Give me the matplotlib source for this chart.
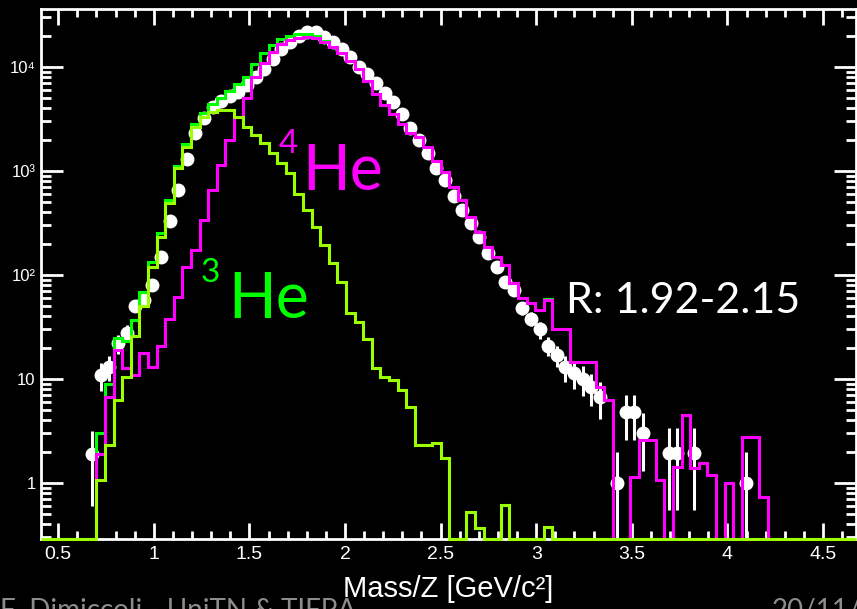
import numpy as np
import matplotlib.pyplot as plt
from matplotlib.ticker import MultipleLocator, LogLocator, FixedLocator, NullFormatter, FuncFormatter

plt.rcParams['font.family'] = ['Liberation Sans', 'DejaVu Sans']

# mass/Z binning of the template histograms (GeV/c^2)
bin_width = 0.045
n_bins = 78
edges = 0.70 + bin_width * np.arange(n_bins + 1)

# 3He template
he3 = [1.07, 2.3, 6.3, 10.5, 26, 50, 120, 230, 490, 1060,
       1700, 2660, 3300, 3700, 3850, 3850, 3300, 2660, 2200, 1850,
       1480, 1200, 950, 600, 420, 290, 195, 130, 85, 43,
       35, 24, 12.7, 10.5, 9.8, 7.8, 5.4, 2.3, 2.3, 2.45,
       1.74, 0, 0, 0.53, 0.37, 0, 0, 0.61, 0, 0,
       0, 0, 0.38, 0, 0, 0, 0, 0, 0, 0,
       0, 0, 0, 0, 0, 0, 0, 0, 0, 0,
       0, 0, 0, 0, 0, 0, 0, 0]

# 4He template
he4 = [1.9, 6.7, 19, 12.7, 11, 17.8, 13, 21, 38, 61,
       120, 174, 336, 656, 1140, 1990, 3300, 5000, 8000, 11000,
       14000, 16500, 18000, 19000, 19300, 18800, 17500, 15500, 13500, 11500,
       9500, 7300, 5500, 4300, 3500, 2800, 2300, 2100, 1700, 1250,
       980, 700, 525, 360, 260, 186, 150, 125, 84, 60,
       54, 46, 58, 30, 30, 14.6, 14.6, 14.6, 8.4, 6.3,
       0, 0, 1.14, 2.6, 2.6, 1.07, 0, 1.43, 4.5, 1.4,
       1.56, 1.19, 0, 1.0, 0, 2.8, 2.8, 0.74]

# 3He + 4He
he_sum = [3.0, 9.0, 25, 23, 37, 68, 133, 251, 528, 1120,
          1820, 2830, 3640, 4360, 4990, 5840, 6800, 8000, 10800, 13600,
          16300, 18500, 19800, 20600, 20600, 19700, 17800, 15630, 13585, 11540,
          9535, 7324, 5513, 4310, 3510, 2808, 2305, 2102, 1702, 1252,
          982, 700, 525, 360.5, 260.4, 186, 150, 125.6, 84, 60,
          54, 46, 58.4, 30, 30, 14.6, 14.6, 14.6, 8.4, 6.3,
          0, 0, 1.14, 2.6, 2.6, 1.07, 0, 1.43, 4.5, 1.4,
          1.56, 1.19, 0, 1.0, 0, 2.8, 2.8, 0.74]

# measured distribution at the bin centres (one extra bin below 0.70)
data_x = 0.70 - bin_width / 2 + bin_width * np.arange(n_bins + 1)
nan = np.nan
data_y = [1.9, 11, 13, 22, 28, 50, 57, 80, 150, 330,
          650, 1300, 2300, 3200, 4100, 4700, 5300, 5800, 6700, 8000,
          9500, 12000, 15000, 17500, 20000, 21500, 21500, 19500, 17500, 15000,
          12400, 10000, 8500, 7000, 5600, 4600, 3500, 2600, 2000, 1500,
          1060, 820, 580, 420, 315, 230, 163, 120, 85, 71,
          48, 38, 30, 21, 17, 13, 11.4, 10, 8.4, 6.7,
          nan, 1.0, 4.8, 4.8, 3.0, nan, nan, 1.95, 1.95, nan,
          1.95, nan, nan, nan, nan, nan, 1.0, nan, nan]
data_err = [1.3, 3.3, 3.5, 4.5, 5, 0, 0, 0, 0, 0,
            0, 0, 0, 0, 0, 0, 0, 0, 0, 0,
            0, 0, 0, 0, 0, 0, 0, 0, 0, 0,
            0, 0, 0, 0, 0, 0, 0, 0, 0, 0,
            0, 0, 0, 0, 0, 15, 13, 11, 9, 8.4,
            7, 6, 5.5, 4.5, 4, 3.6, 3.4, 3.2, 2.9, 2.6,
            0, 1.0, 2.2, 2.2, 1.7, 0, 0, 1.4, 1.4, 0,
            1.4, 0, 0, 0, 0, 0, 1.0, 0, 0]

x_range = (0.411, 4.673)
y_range = (0.29, 36000)

fig = plt.figure(figsize=(8.57, 6.09), dpi=100, facecolor='black')
ax = fig.add_axes([0.048, 0.115, 0.951, 0.870])
ax.set_facecolor('black')
ax.set_yscale('log')
ax.set_xlim(*x_range)
ax.set_ylim(*y_range)

ax.errorbar(data_x, data_y, yerr=data_err, fmt='o', color='white', ms=9,
            elinewidth=2.2, capsize=0, zorder=2)

floor = 1e-3
ax.stairs(np.clip(he_sum, floor, None), edges, baseline=floor,
          color='#00ff00', lw=2.2, zorder=3)
ax.stairs(np.clip(he4, floor, None), edges, baseline=floor,
          color='#ff00ff', lw=2.2, zorder=4)

# 3He runs over the full axis, empty bins lie on the bottom edge
edges3 = np.concatenate([[x_range[0]], edges, [x_range[1]]])
he3_full = np.clip(np.concatenate([[0], he3, [0]]), y_range[0], None)
ax.stairs(he3_full, edges3, baseline=None, color='#9cff00', lw=2.2,
          zorder=5, clip_on=False)

# axes in white, ticks on all four sides
for s in ax.spines.values():
    s.set_color('white')
    s.set_linewidth(2)
ax.xaxis.set_major_locator(MultipleLocator(0.5))
ax.xaxis.set_minor_locator(MultipleLocator(0.1))
ax.xaxis.set_major_formatter(FuncFormatter(lambda v, p: f'{v:g}'))
ax.yaxis.set_major_locator(FixedLocator([1, 10, 100, 1000, 10000]))
ax.yaxis.set_major_formatter(FuncFormatter(
    lambda v, p: {1: '1', 10: '10', 100: '10²', 1000: '10³', 10000: '10⁴'}.get(int(round(v)), '')))
ax.yaxis.set_minor_locator(LogLocator(base=10, subs=np.arange(2, 10)))
ax.yaxis.set_minor_formatter(NullFormatter())
ax.tick_params(which='both', direction='in', colors='white', top=True, right=True, width=2)
ax.tick_params(axis='x', which='major', length=11.5, pad=5, labelsize=14)
ax.tick_params(axis='x', which='minor', length=5.5)
ax.tick_params(axis='y', which='major', length=16, pad=4, labelsize=12)
ax.tick_params(axis='y', which='minor', length=7)

ax.set_xlabel('Mass/Z [GeV/c²]', color='white', fontsize=21, labelpad=9)

lab_font = ['Lato', 'DejaVu Sans']
ax.text(1.652, 1490, '4', color='#ff00ff', fontsize=24, family=lab_font)
ax.text(1.777, 657, 'He', color='#ff00ff', fontsize=45, family=lab_font)
ax.text(1.243, 86, '3', color='#00ff00', fontsize=24, family=lab_font)
ax.text(1.39, 38.6, 'He', color='#00ff00', fontsize=45, family=lab_font)
ax.text(3.154, 43, 'R: 1.92-2.15', color='white', fontsize=31, family=lab_font)

fig.text(0.0, 0.018, 'F. Dimiccoli - UniTN & TIFPA', color='#8c8c8c',
         fontsize=20, va='top', family=lab_font)
fig.text(0.90, 0.018, '20/11/2014', color='#8c8c8c',
         fontsize=20, va='top', family=lab_font)

fig.savefig('out.png', dpi=100, facecolor='black')
